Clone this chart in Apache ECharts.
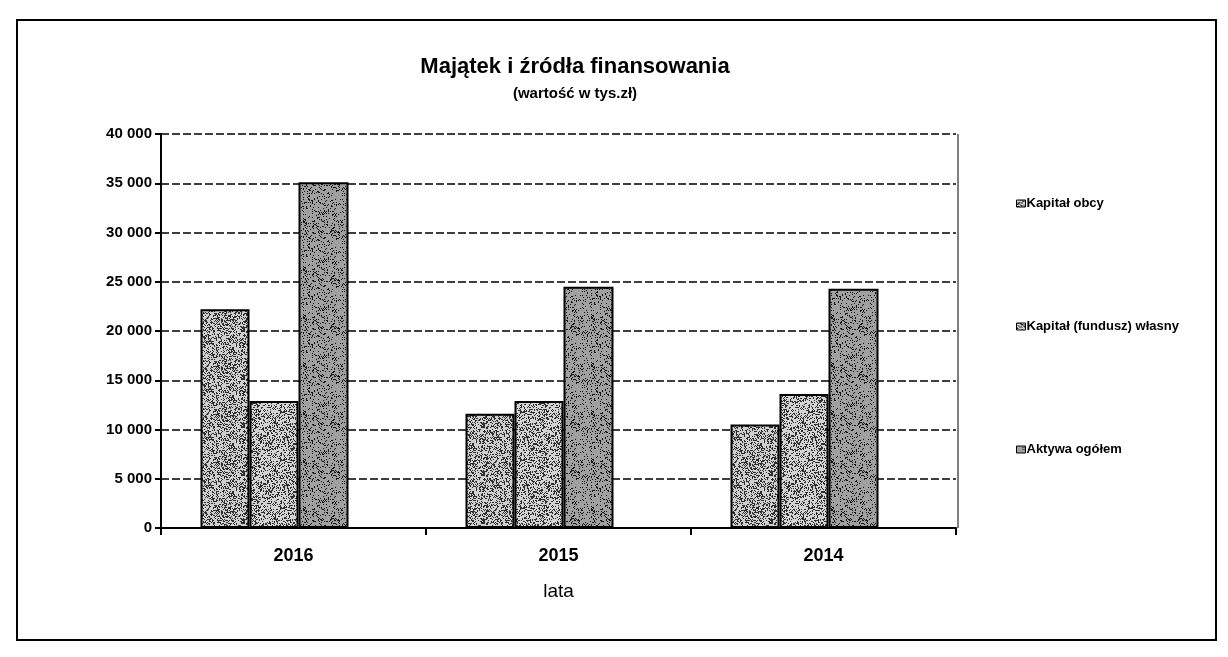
<!DOCTYPE html>
<html>
<head>
<meta charset="utf-8">
<title>Majątek i źródła finansowania</title>
<script src="https://cdn.jsdelivr.net/npm/echarts@6/dist/echarts.min.js"></script>
<style>
  html, body { margin: 0; padding: 0; background: #fff; }
  #chart { width: 1228px; height: 657px; }
</style>
</head>
<body>
<div id="chart"></div>
<script>
// dane (tys. zł)
const years = ['2016', '2015', '2014']
const kapitalObcy = [22200, 11600, 10500]
const kapitalWlasny = [12900, 12900, 13600]
const aktywaOgolem = [35100, 24500, 24300]
const seriesNames = ['Kapitał obcy', 'Kapitał (fundusz) własny', 'Aktywa ogółem']
const yTicks = { min: 0, max: 40000, interval: 5000 }

// szara faktura "kropkowana" jak na skanie (deterministyczna, nie dane)
const makePattern = (base, dark, density, seed) => {
  const c = document.createElement('canvas')
  c.width = 48
  c.height = 48
  const ctx = c.getContext('2d')
  ctx.fillStyle = base
  ctx.fillRect(0, 0, 48, 48)
  let s = seed
  const next = () => {
    s = (s * 1103515245 + 12345) % 2147483648
    return s / 2147483648
  }
  ctx.fillStyle = dark
  for (let i = 0; i < 48 * 48 * density; i++) {
    const x = Math.floor(next() * 48)
    const y = Math.floor(next() * 48)
    ctx.fillRect(x, y, 1, 1)
  }
  return { image: c, repeat: 'repeat' }
}

const fmt = v => String(v).replace(/\B(?=(\d{3})+(?!\d))/g, ' ')

const chart = echarts.init(document.getElementById('chart'))

const barBorder = { borderColor: '#000', borderWidth: 2 }
const font = 'Liberation Sans, Arial, sans-serif'

const option = {
  backgroundColor: '#fff',
  animation: false,
  title: {
    text: 'Majątek i źródła finansowania',
    subtext: '(wartość w tys.zł)',
    left: 570,
    top: 51,
    textAlign: 'center',
    itemGap: 8,
    textStyle: { fontFamily: font, fontSize: 22, fontWeight: 'bold', color: '#000' },
    subtextStyle: { fontFamily: font, fontSize: 15, fontWeight: 'bold', color: '#000' }
  },
  legend: {
    data: seriesNames,
    orient: 'vertical',
    left: 1011,
    top: 192,
    itemGap: 110,
    itemWidth: 9,
    itemHeight: 7,
    icon: 'rect',
    itemStyle: { borderColor: '#000', borderWidth: 1 },
    textStyle: { fontFamily: font, fontSize: 13, fontWeight: 'bold', color: '#000', padding: [0, 0, 0, -4] }
  },
  grid: {
    left: 161,
    right: 272,
    top: 134,
    bottom: 129,
    show: false
  },
  xAxis: {
    type: 'category',
    data: years,
    name: 'lata',
    nameLocation: 'middle',
    nameGap: 54,
    nameTextStyle: { fontFamily: font, fontSize: 19, color: '#000' },
    axisLine: { lineStyle: { color: '#000', width: 2 } },
    axisTick: { show: true, interval: 0, length: 7, lineStyle: { color: '#000', width: 2 } },
    axisLabel: { margin: 19, fontFamily: font, fontSize: 18, fontWeight: 'bold', color: '#000' }
  },
  yAxis: {
    type: 'value',
    min: yTicks.min,
    max: yTicks.max,
    interval: yTicks.interval,
    axisLine: { show: true, lineStyle: { color: '#000', width: 2 } },
    axisTick: { show: true, length: 6, lineStyle: { color: '#000', width: 2 } },
    axisLabel: { margin: 9, fontFamily: font, fontSize: 15, fontWeight: 'bold', color: '#000', formatter: fmt },
    splitLine: { show: true, lineStyle: { color: '#000', width: 1.5, type: [8, 3] } }
  },
  graphic: [
    {
      type: 'rect',
      shape: { x: 17, y: 20, width: 1199, height: 620 },
      style: { fill: 'none', stroke: '#000', lineWidth: 2 },
      silent: true
    },
    {
      type: 'line',
      shape: { x1: 958, y1: 134, x2: 958, y2: 528 },
      style: { stroke: '#000', lineWidth: 1 },
      silent: true
    }
  ],
  series: [
    {
      name: seriesNames[0],
      type: 'bar',
      data: kapitalObcy,
      barWidth: 49,
      barGap: '0%',
      itemStyle: Object.assign({ color: makePattern('#cfcfcf', '#2e2e2e', 0.45, 11) }, barBorder)
    },
    {
      name: seriesNames[1],
      type: 'bar',
      data: kapitalWlasny,
      barWidth: 49,
      barGap: '0%',
      itemStyle: Object.assign({ color: makePattern('#d4d4d4', '#2e2e2e', 0.42, 23) }, barBorder)
    },
    {
      name: seriesNames[2],
      type: 'bar',
      data: aktywaOgolem,
      barWidth: 50,
      barGap: '0%',
      itemStyle: Object.assign({ color: makePattern('#a0a0a0', '#141414', 0.7, 37) }, barBorder)
    },
    {
      // puste miejsce po prawej stronie grupy (jak w oryginale)
      name: 'pusty',
      type: 'bar',
      data: years.map(() => null),
      barWidth: 38,
      barGap: '0%',
      silent: true
    }
  ]
}

chart.setOption(option)
</script>
</body>
</html>
